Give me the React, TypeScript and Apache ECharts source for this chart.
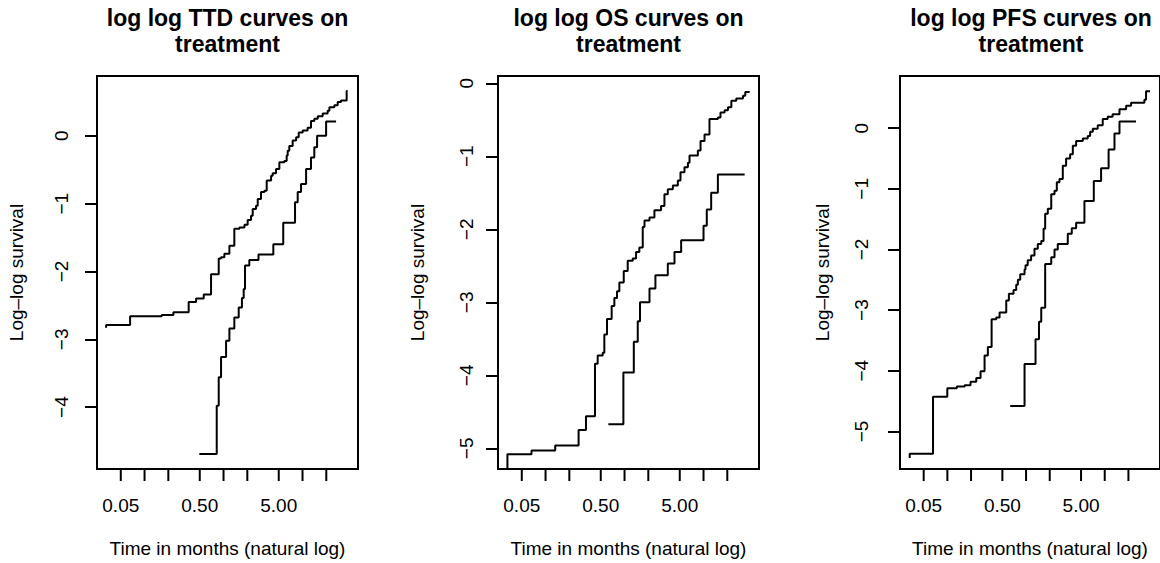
import React, { useEffect, useRef } from "react";
import * as echarts from "echarts";

const FONT = "'Liberation Sans', Arial, Helvetica, sans-serif";

const TITLES = [
  "log log TTD curves on\ntreatment",
  "log log OS curves on\ntreatment",
  "log log PFS curves on\ntreatment",
];
const X_TITLE = "Time in months (natural log)";
const Y_TITLE = "Log\u2013log survival";

const X_TICKS = [0.05, 0.1, 0.2, 0.5, 1, 2, 5, 10, 20];
const X_TICK_LABELS = ["0.05", "", "", "0.50", "", "", "5.00", "", ""];

const Y_TICKS_TTD = [-4, -3, -2, -1, 0];
const Y_TICKS_OS = [-5, -4, -3, -2, -1, 0];
const Y_TICKS_PFS = [-5, -4, -3, -2, -1, 0];

// [time in months, log(-log(survival))]
const TTD_ARM_A: [number, number][] = [
  [0.0326, -2.83], [0.0326, -2.79], [0.0656, -2.66], [0.165, -2.64], [0.232, -2.6],
  [0.362, -2.45], [0.449, -2.4], [0.561, -2.34], [0.695, -2.04], [0.869, -1.81],
  [0.93, -1.79], [1.025, -1.74], [1.186, -1.62], [1.37, -1.37], [1.59, -1.35],
  [1.84, -1.31], [2.02, -1.24], [2.23, -1.18], [2.34, -1.08], [2.58, -1.03],
  [2.71, -0.93], [2.98, -0.83], [3.29, -0.81], [3.52, -0.66], [4.0, -0.59],
  [4.19, -0.55], [4.62, -0.49], [5.09, -0.39], [5.89, -0.37], [6.3, -0.29],
  [6.49, -0.22], [6.8, -0.15], [7.5, -0.07], [8.3, -0.02], [8.95, 0.05],
  [10.05, 0.08], [11.6, 0.12], [12.8, 0.22], [14.1, 0.25], [15.6, 0.29],
  [18.0, 0.33], [20.8, 0.37], [21.9, 0.42], [25.3, 0.45], [27.9, 0.5],
  [30.7, 0.52], [36.2, 0.66], [37.3, 0.66],
];
const TTD_ARM_B: [number, number][] = [
  [0.494, -4.69], [0.82, -3.98], [0.869, -3.56], [0.93, -3.26], [1.077, -3.02],
  [1.186, -2.84], [1.37, -2.68], [1.556, -2.53], [1.71, -2.39], [1.8, -2.26],
  [1.87, -1.91], [2.12, -1.83], [2.77, -1.75], [4.27, -1.6], [5.7, -1.28],
  [8.04, -0.98], [8.69, -0.83], [9.57, -0.71], [11.1, -0.49], [12.8, -0.32],
  [14.1, -0.17], [15.3, 0.0], [19.9, 0.21], [26.6, 0.21],
];

const OS_ARM_A: [number, number][] = [
  [0.0329, -5.6], [0.0329, -5.08], [0.0664, -5.03], [0.1325, -4.96], [0.262, -4.75],
  [0.325, -4.56], [0.4226, -3.84], [0.457, -3.73], [0.529, -3.69], [0.555, -3.44],
  [0.6, -3.23], [0.687, -3.05], [0.743, -2.94], [0.803, -2.85], [0.86, -2.73],
  [0.977, -2.57], [1.097, -2.43], [1.27, -2.4], [1.4, -2.31], [1.54, -2.25],
  [1.7, -1.97], [1.79, -1.88], [2.07, -1.84], [2.39, -1.74], [2.9, -1.68],
  [3.2, -1.52], [3.53, -1.45], [4.09, -1.4], [4.73, -1.33], [5.11, -1.22],
  [5.74, -1.15], [6.34, -1.09], [6.65, -0.99], [8.48, -0.92], [9.17, -0.79],
  [10.3, -0.7], [11.9, -0.49], [15.2, -0.47], [16.4, -0.4], [18.5, -0.37],
  [20.4, -0.33], [22.5, -0.24], [26.0, -0.21], [31.6, -0.17], [33.8, -0.12],
  [38.4, -0.12],
];
const OS_ARM_B: [number, number][] = [
  [0.624, -4.67], [0.967, -3.96], [1.31, -3.54], [1.47, -3.26], [1.57, -3.0],
  [2.07, -2.81], [2.46, -2.63], [3.53, -2.47], [4.29, -2.31], [5.21, -2.15],
  [10.0, -1.95], [11.0, -1.73], [12.5, -1.5], [15.2, -1.25], [33.2, -1.25],
];

const PFS_ARM_A: [number, number][] = [
  [0.0332, -5.44], [0.0332, -5.37], [0.0657, -4.43], [0.0998, -4.29], [0.132, -4.26],
  [0.166, -4.24], [0.197, -4.18], [0.233, -4.12], [0.264, -4.01], [0.297, -3.75],
  [0.327, -3.61], [0.365, -3.15], [0.418, -3.12], [0.461, -3.04], [0.56, -2.84],
  [0.605, -2.73], [0.694, -2.67], [0.75, -2.58], [0.787, -2.5], [0.843, -2.41],
  [0.957, -2.33], [0.984, -2.26], [1.05, -2.18], [1.16, -2.1], [1.28, -1.99],
  [1.41, -1.91], [1.56, -1.86], [1.67, -1.66], [1.75, -1.41], [1.89, -1.33],
  [2.09, -1.09], [2.3, -1.03], [2.46, -0.89], [2.66, -0.84], [2.93, -0.62],
  [3.23, -0.5], [3.63, -0.43], [3.93, -0.29], [4.33, -0.21], [5.26, -0.17],
  [6.08, -0.13], [6.52, -0.06], [7.05, -0.01], [8.15, 0.05], [9.43, 0.15],
  [10.9, 0.19], [12.6, 0.23], [15.4, 0.31], [18.7, 0.37], [21.6, 0.42],
  [31.9, 0.47], [33.5, 0.61], [37.6, 0.61],
];
const PFS_ARM_B: [number, number][] = [
  [0.629, -4.58], [0.957, -3.89], [1.32, -3.48], [1.46, -3.19], [1.56, -2.96],
  [1.75, -2.24], [2.09, -2.13], [2.3, -2.0], [2.53, -1.91], [3.39, -1.74],
  [3.81, -1.65], [4.33, -1.56], [5.52, -1.2], [7.26, -0.87], [8.99, -0.66],
  [11.2, -0.35], [13.3, -0.09], [15.4, 0.11], [25.0, 0.11],
];

const X_MIN = 0.025;
const X_MAX = 50.4;

const PANELS = [
  { title: TITLES[0], a: TTD_ARM_A, b: TTD_ARM_B, yTicks: Y_TICKS_TTD, yMin: -4.912, yMax: 0.882, left: 97, width: 261, labelMargin: 26, nameGap: 71 },
  { title: TITLES[1], a: OS_ARM_A, b: OS_ARM_B, yTicks: Y_TICKS_OS, yMin: -5.283, yMax: 0.0997, left: 498, width: 261, labelMargin: 22, nameGap: 71 },
  { title: TITLES[2], a: PFS_ARM_A, b: PFS_ARM_B, yTicks: Y_TICKS_PFS, yMin: -5.62, yMax: 0.86, left: 900, width: 262, labelMargin: 29, nameGap: 68 },
];

const GRID_TOP = 76;
const GRID_HEIGHT = 394;

function buildOption() {
  const grid: any[] = [];
  const xAxis: any[] = [];
  const yAxis: any[] = [];
  const series: any[] = [];
  const graphic: any[] = [];

  PANELS.forEach((p, i) => {
    grid.push({
      left: p.left,
      top: GRID_TOP,
      width: p.width,
      height: GRID_HEIGHT,
      show: true,
      borderColor: "#000",
      borderWidth: 2,
      backgroundColor: "transparent",
    });
    xAxis.push({
      gridIndex: i,
      type: "log",
      logBase: 10,
      min: X_MIN,
      max: X_MAX,
      axisLine: { show: false },
      axisTick: { show: false },
      axisLabel: { show: false },
      splitLine: { show: false },
      minorTick: { show: false },
      name: X_TITLE,
      nameLocation: "middle",
      nameGap: 70,
      nameTextStyle: { fontSize: 19, color: "#000", fontFamily: FONT },
    });
    yAxis.push({
      gridIndex: i,
      type: "value",
      min: p.yMin,
      max: p.yMax,
      axisLine: { show: false },
      axisTick: {
        show: true,
        inside: false,
        length: 12,
        lineStyle: { color: "#000", width: 2 },
        customValues: p.yTicks,
      },
      axisLabel: {
        show: true,
        customValues: p.yTicks,
        rotate: 90,
        margin: p.labelMargin,
        fontSize: 19,
        color: "#000",
        fontFamily: FONT,
        formatter: (v: number) => String(v).replace("-", "\u2212"),
      },
      splitLine: { show: false },
      name: Y_TITLE,
      nameLocation: "middle",
      nameGap: p.nameGap,
      nameTextStyle: { fontSize: 19, color: "#000", fontFamily: FONT },
    });
    [p.a, p.b].forEach((arm) => {
      series.push({
        type: "line",
        xAxisIndex: i,
        yAxisIndex: i,
        data: arm,
        step: "end",
        showSymbol: false,
        symbol: "none",
        clip: true,
        lineStyle: { color: "#000", width: 2 },
        silent: true,
      });
    });
    const yMin = p.yMin;
    series.push({
      type: "custom",
      xAxisIndex: i,
      yAxisIndex: i,
      silent: true,
      clip: false,
      data: X_TICKS.map((t) => [t, yMin]),
      renderItem: (params: any, api: any) => {
        const pt = api.coord([api.value(0), yMin]);
        const label = X_TICK_LABELS[params.dataIndex];
        const children: any[] = [
          {
            type: "line",
            shape: { x1: pt[0], y1: pt[1], x2: pt[0], y2: pt[1] + 12 },
            style: { stroke: "#000", lineWidth: 2 },
          },
        ];
        if (label) {
          children.push({
            type: "text",
            x: pt[0],
            y: pt[1] + 36,
            style: {
              text: label,
              align: "center",
              verticalAlign: "middle",
              fontSize: 19,
              fontFamily: FONT,
              fill: "#000",
            },
          });
        }
        return { type: "group", children };
      },
    });
    graphic.push({
      type: "text",
      x: p.left + p.width / 2,
      y: 5,
      style: {
        text: p.title,
        align: "center",
        verticalAlign: "top",
        fontSize: 23,
        fontWeight: "bold",
        lineHeight: 26,
        fontFamily: FONT,
        fill: "#000",
      },
    });
  });

  return {
    animation: false,
    backgroundColor: "#fff",
    grid,
    xAxis,
    yAxis,
    series,
    graphic,
  };
}

export default function App() {
  const ref = useRef<HTMLDivElement>(null);
  useEffect(() => {
    if (!ref.current) return;
    const chart = echarts.init(ref.current, undefined, { renderer: "svg" });
    chart.setOption(buildOption() as any);
    return () => chart.dispose();
  }, []);
  return (
    <div
      ref={ref}
      style={{ position: "fixed", left: 0, top: 0, width: 1160, height: 563 }}
    />
  );
}
